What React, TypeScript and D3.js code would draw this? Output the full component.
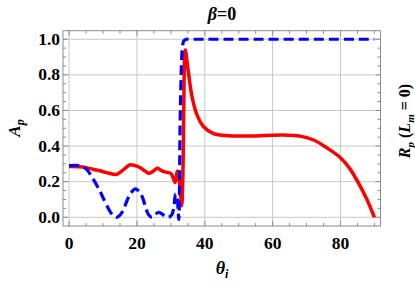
import React from 'react';
import * as d3 from 'd3';

// A_p (red, solid)
const redTheta = [0, 3, 5, 7, 9, 11, 13, 14, 15, 16.5, 18, 19.5, 21, 22.5, 23.5, 24.5, 26, 27, 28, 29, 30, 30.7, 31.2, 31.5, 31.9, 32.3, 32.8, 33.2, 33.5, 33.8, 34.1, 34.3, 34.6, 35.2, 36.2, 37.7, 39.6, 42.6, 47, 50, 55, 60, 63, 66, 68.1, 72.1, 76, 80, 82.9, 85.8, 87.8, 90];
const redValues = [0.285, 0.284, 0.279, 0.27, 0.261, 0.251, 0.242, 0.241, 0.252, 0.275, 0.295, 0.29, 0.278, 0.258, 0.247, 0.255, 0.276, 0.265, 0.256, 0.252, 0.246, 0.22, 0.195, 0.215, 0.26, 0.23, 0.15, 0.065, 0.2, 0.6, 0.92, 0.94, 0.9, 0.81, 0.68, 0.575, 0.51, 0.47, 0.458, 0.456, 0.457, 0.461, 0.462, 0.46, 0.456, 0.434, 0.39, 0.334, 0.269, 0.175, 0.1, 0];

// R_p (blue, dashed)
const blueTheta = [0, 3, 5, 7, 9, 10, 12, 13, 14, 15, 16, 17, 18, 19.5, 20.5, 21.5, 22.5, 23.4, 24.4, 25.3, 26.3, 27.3, 28.3, 29.3, 30.3, 30.9, 31.4, 31.8, 32.1, 32.35, 32.6, 32.7, 33.0, 33.2, 33.5, 33.8, 34.5, 36, 90];
const blueValues = [0.29, 0.29, 0.272, 0.218, 0.15, 0.11, 0.035, 0.01, 0, 0.012, 0.042, 0.09, 0.13, 0.16, 0.148, 0.118, 0.06, 0.015, 0, 0.015, 0.027, 0.02, 0.005, 0, 0.015, 0.06, 0.13, 0.12, 0.05, -0.012, 0.3, 0.5, 0.78, 0.9, 0.97, 0.99, 1, 1, 1];

const xMajor = [0, 20, 40, 60, 80];
const yMajor = [0, 0.2, 0.4, 0.6, 0.8, 1.0];

const W = 415;
const H = 285;
const frame = { left: 63, right: 380.5, top: 30.7, bottom: 226 };
const serif = '"Liberation Serif", "DejaVu Serif", serif';

export default function App() {
  const x = d3.scaleLinear().domain([-1.8, 91.8]).range([frame.left, frame.right]);
  const y = d3.scaleLinear().domain([-0.049, 1.048]).range([frame.bottom, frame.top]);

  const xMinor = d3.range(0, 91, 5).filter(v => !xMajor.includes(v));
  const yMinor = d3.range(0, 21).map(i => +(i * 0.05).toFixed(2)).filter(v => !yMajor.includes(v));

  const line = d3.line<[number, number]>()
    .x(d => x(d[0]))
    .y(d => y(d[1]))
    .curve(d3.curveCatmullRom.alpha(0.5));

  const redPath = line(redTheta.map((t, i) => [t, redValues[i]] as [number, number])) || '';
  const bluePath = line(blueTheta.map((t, i) => [t, blueValues[i]] as [number, number])) || '';

  const frameColor = '#8c8c8c';
  const gridColor = '#c8c8c8';

  return (
    <svg width={W} height={H} style={{ position: 'absolute', left: 0, top: 0, background: '#fff' }} fontFamily={serif}>
      {/* grid */}
      <g stroke={gridColor} strokeWidth={1}>
        {xMajor.map(v => <line key={'gx' + v} x1={x(v)} x2={x(v)} y1={frame.top} y2={frame.bottom} />)}
        {yMajor.map(v => <line key={'gy' + v} x1={frame.left} x2={frame.right} y1={y(v)} y2={y(v)} />)}
      </g>

      {/* frame + ticks */}
      <g stroke={frameColor} strokeWidth={1} fill="none">
        <rect x={frame.left} y={frame.top} width={frame.right - frame.left} height={frame.bottom - frame.top} />
        {xMajor.map(v => (
          <g key={'tx' + v}>
            <line x1={x(v)} x2={x(v)} y1={frame.bottom} y2={frame.bottom - 5} />
            <line x1={x(v)} x2={x(v)} y1={frame.top} y2={frame.top + 5} />
          </g>
        ))}
        {xMinor.map(v => (
          <g key={'mx' + v}>
            <line x1={x(v)} x2={x(v)} y1={frame.bottom} y2={frame.bottom - 3} />
            <line x1={x(v)} x2={x(v)} y1={frame.top} y2={frame.top + 3} />
          </g>
        ))}
        {yMajor.map(v => (
          <g key={'ty' + v}>
            <line x1={frame.left} x2={frame.left + 5} y1={y(v)} y2={y(v)} />
            <line x1={frame.right} x2={frame.right - 5} y1={y(v)} y2={y(v)} />
          </g>
        ))}
        {yMinor.map(v => (
          <g key={'my' + v}>
            <line x1={frame.left} x2={frame.left + 3} y1={y(v)} y2={y(v)} />
            <line x1={frame.right} x2={frame.right - 3} y1={y(v)} y2={y(v)} />
          </g>
        ))}
      </g>

      {/* curves */}
      <path d={redPath} fill="none" stroke="#ff0000" strokeWidth={3.5} strokeLinejoin="round" />
      <path d={bluePath} fill="none" stroke="#0000ff" strokeWidth={3.2} strokeDasharray="10,5" />

      {/* tick labels */}
      <g fontSize={17.5} fontWeight="bold" fill="#000">
        {xMajor.map(v => (
          <text key={'lx' + v} x={x(v)} y={248.5} textAnchor="middle">{v}</text>
        ))}
        {yMajor.map(v => (
          <text key={'ly' + v} x={60} y={y(v) + 5.5} textAnchor="end">{v.toFixed(1)}</text>
        ))}
      </g>

      {/* title */}
      <text x={222} y={20} textAnchor="middle" fontSize={18} fontWeight="bold">
        <tspan fontStyle="italic">β</tspan>=0
      </text>

      {/* x label */}
      <text x={222} y={274} textAnchor="middle" fontSize={18} fontWeight="bold" fontStyle="italic">
        θ<tspan fontSize={12} dy={4}>i</tspan>
      </text>

      {/* y label */}
      <text transform="translate(20,128) rotate(-90)" textAnchor="middle" fontSize={17} fontWeight="bold" fontStyle="italic">
        A<tspan fontSize={12} dy={4}>p</tspan>
      </text>

      {/* right label */}
      <text transform="translate(410,121) rotate(-90)" textAnchor="middle" fontSize={16} fontWeight="bold">
        <tspan fontStyle="italic">R</tspan>
        <tspan fontStyle="italic" fontSize={11} dy={4}>p</tspan>
        <tspan dy={-4}> (</tspan>
        <tspan fontStyle="italic">L</tspan>
        <tspan fontStyle="italic" fontSize={11} dy={4}>m</tspan>
        <tspan dy={-4}> = 0)</tspan>
      </text>
    </svg>
  );
}
